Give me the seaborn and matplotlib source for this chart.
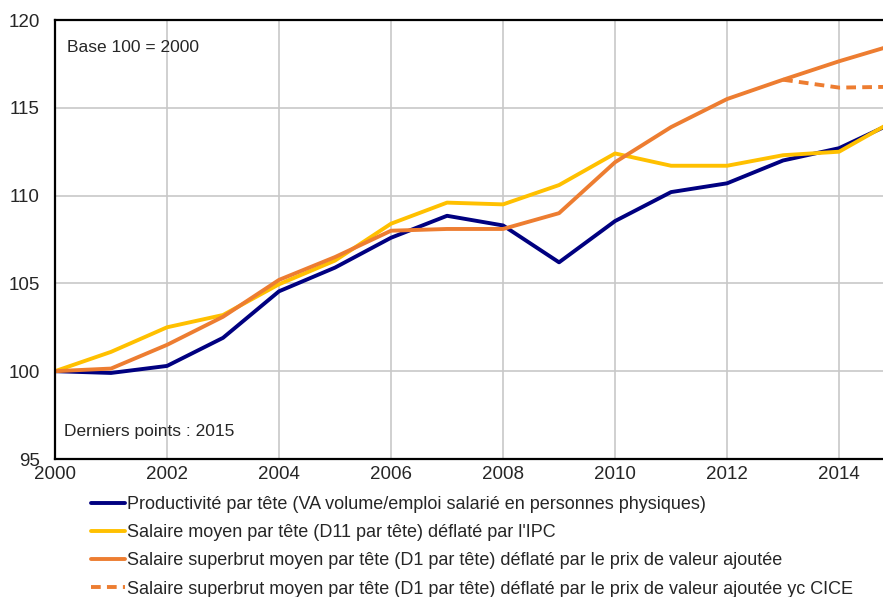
import matplotlib
matplotlib.use("Agg")
import matplotlib.pyplot as plt
import seaborn as sns
import pandas as pd

years = list(range(2000, 2016))
productivite = [100.0, 99.9, 100.3, 101.9, 104.55, 105.9, 107.6, 108.85, 108.3, 106.2,
                108.55, 110.2, 110.7, 112.0, 112.7, 114.2]
salaire_ipc = [100.0, 101.1, 102.5, 103.2, 104.95, 106.3, 108.4, 109.6, 109.5, 110.6,
               112.4, 111.7, 111.7, 112.3, 112.5, 114.3]
superbrut = [100.0, 100.15, 101.5, 103.1, 105.2, 106.5, 108.0, 108.1, 108.1, 109.0,
             111.9, 113.9, 115.5, 116.6, 117.65, 118.6]
cice_years = [2013, 2014, 2015]
superbrut_cice = [116.6, 116.15, 116.2]

labels = [
    "Productivité par tête (VA volume/emploi salarié en personnes physiques)",
    "Salaire moyen par tête (D11 par tête) déflaté par l'IPC",
    "Salaire superbrut moyen par tête (D1 par tête) déflaté par le prix de valeur ajoutée",
    "Salaire superbrut moyen par tête (D1 par tête) déflaté par le prix de valeur ajoutée yc CICE",
]

sns.set_style("whitegrid")
plt.rcParams["font.family"] = ["Liberation Sans", "DejaVu Sans"]

fig = plt.figure(figsize=(8.83, 5.97), dpi=100)
ax = fig.add_axes([55 / 883, 1 - 459 / 597, 1 - 55 / 883 + 0.001, (459 - 20) / 597])

lw = 2.8
sns.lineplot(x=years, y=productivite, ax=ax, color="#000080", lw=lw, label=labels[0])
sns.lineplot(x=years, y=salaire_ipc, ax=ax, color="#FFC000", lw=lw, label=labels[1])
sns.lineplot(x=cice_years, y=superbrut_cice, ax=ax, color="#ED7D31", lw=lw,
             linestyle=(0, (2.5, 1.6)), label=labels[3])
sns.lineplot(x=years, y=superbrut, ax=ax, color="#ED7D31", lw=lw, label=labels[2])

ax.set_xlim(2000, 2014.8)
ax.set_ylim(95, 120)
ax.set_xticks(range(2000, 2015, 2))
ax.set_yticks(range(95, 121, 5))
ax.tick_params(axis="both", labelsize=13.5, length=0)
ax.tick_params(axis="y", pad=11)
ax.tick_params(axis="x", pad=5)
ax.grid(True, color="#c8c8c8", lw=1.2)
for s in ax.spines.values():
    s.set_color("black")
    s.set_linewidth(1.6)
ax.spines["right"].set_visible(False)

ax.text(0.015, 0.955, "Base 100 = 2000", transform=ax.transAxes, fontsize=12.5, va="top")
ax.text(0.011, 0.045, "Derniers points : 2015", transform=ax.transAxes, fontsize=12.5, va="bottom")

handles, labs = ax.get_legend_handles_labels()
order = [0, 1, 3, 2]
ax.get_legend().remove()
fig.legend([handles[i] for i in order], [labs[i] for i in order],
           loc="upper left", bbox_to_anchor=(91 / 883, 1 - 496 / 597),
           frameon=False, fontsize=13, handlelength=1.9, handletextpad=0.1,
           labelspacing=0.62, borderaxespad=0, borderpad=0)

fig.savefig("out.png", dpi=100)
